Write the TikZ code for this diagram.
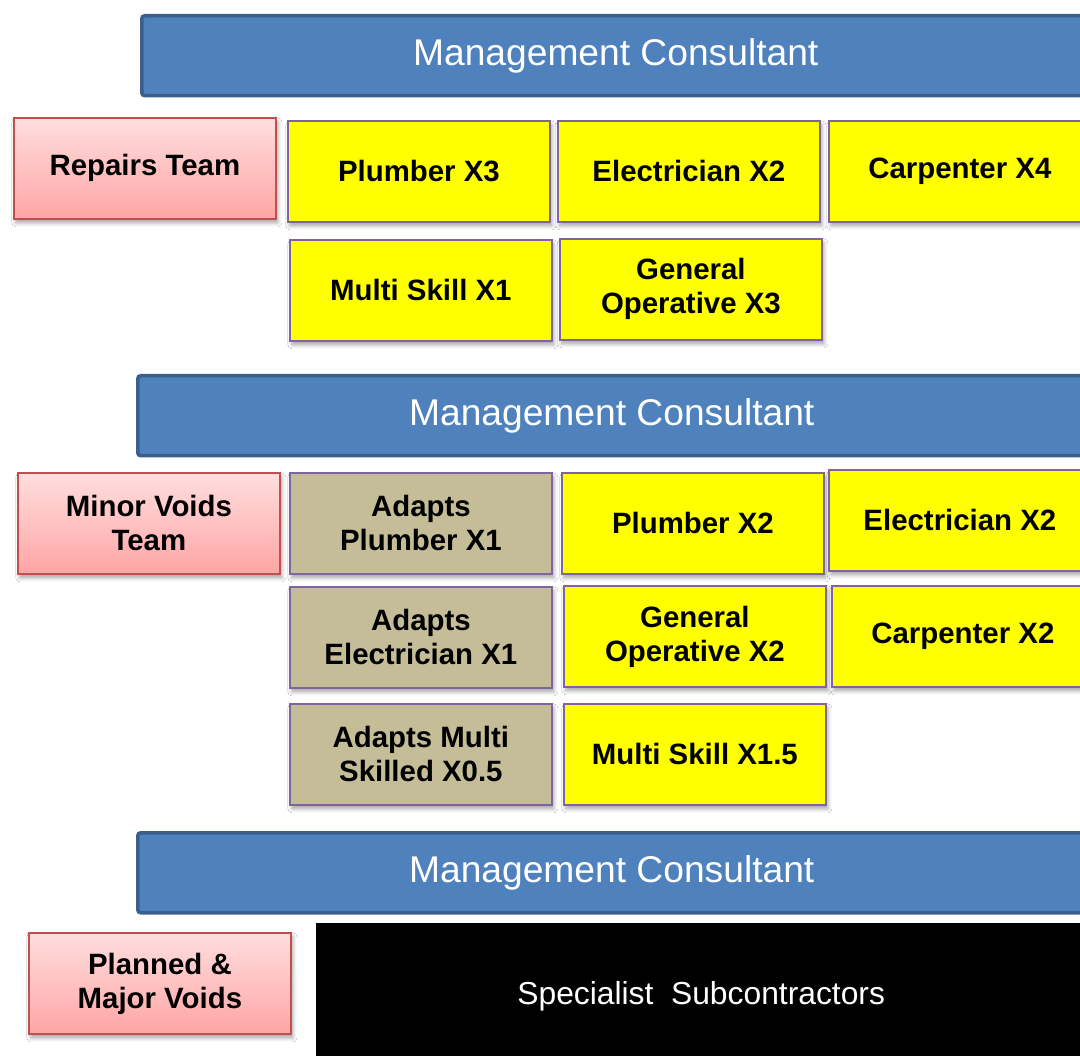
\documentclass[tikz,border=0pt]{standalone}
\usepackage{fontspec}
\setmainfont{Liberation Sans}
\usetikzlibrary{shadows.blur}
\definecolor{barfill}{HTML}{4F81BD}
\definecolor{barline}{HTML}{3A5F8C}
\definecolor{pinktop}{HTML}{FFDEDE}
\definecolor{pinkbot}{HTML}{FFA5A5}
\definecolor{pinkline}{HTML}{C0504D}
\definecolor{yel}{HTML}{FFFF00}
\definecolor{purpline}{HTML}{8064A2}
\definecolor{tan}{HTML}{C4BD97}
\tikzset{
  sh/.style={blur shadow={shadow xshift=2pt,shadow yshift=-4pt,shadow blur steps=6,shadow opacity=35,shadow blur radius=4pt}},
  bar/.style={draw=barline, line width=3.5pt, fill=barfill, rounded corners=3pt, anchor=north west,
    minimum width=948pt, minimum height=80pt, text=white, inner sep=0pt,
    font=\fontsize{37.2}{44}\selectfont},
  cell/.style={line width=1.8pt, anchor=north west, minimum width=262pt, minimum height=101pt,
    inner sep=0pt, align=center, font=\fontsize{29.4}{34}\selectfont\bfseries, sh},
  teambox/.style={cell, draw=pinkline, top color=pinktop, bottom color=pinkbot},
  yelbox/.style={cell, draw=purpline, fill=yel},
  tanbox/.style={cell, draw=purpline, fill=tan},
  blackbox/.style={fill=black, anchor=north west, minimum width=770pt, minimum height=146pt,
    inner sep=0pt, text=white, font=\fontsize{31.8}{37}\selectfont}
}
\begin{document}
\begin{tikzpicture}[x=1pt,y=-1pt]
\useasboundingbox (0,0) rectangle (1080,1056);
\clip (0,0) rectangle (1080,1056);
\fill[white] (0,0) rectangle (1080,1056);
% bars
\node[bar] (mc1) at (140,14) {Management Consultant};
\node[bar] (mc2) at (136,374) {Management Consultant};
\node[bar] (mc3) at (136,831) {Management Consultant};
% repairs
\node[teambox] (rt) at (13,117) {Repairs Team};
\node[yelbox] (p3) at (287,120) {Plumber X3};
\node[yelbox] (e2) at (557,120) {Electrician X2};
\node[yelbox] (c4) at (828,120) {Carpenter X4};
\node[yelbox] (ms1) at (289,239) {Multi Skill X1};
\node[yelbox] (go3) at (559,238) {General\\Operative X3};
% minor voids
\node[teambox] (mv) at (17,472) {Minor Voids\\Team};
\node[tanbox] (ap1) at (289,472) {Adapts\\Plumber X1};
\node[yelbox] (p2) at (561,472) {Plumber X2};
\node[yelbox] (e2b) at (828,469) {Electrician X2};
\node[tanbox] (ae1) at (289,586) {Adapts\\Electrician X1};
\node[yelbox] (go2) at (563,585) {General\\Operative X2};
\node[yelbox] (c2) at (831,585) {Carpenter X2};
\node[tanbox] (am) at (289,703) {Adapts Multi\\Skilled X0.5};
\node[yelbox] (ms15) at (563,703) {Multi Skill X1.5};
% planned
\node[teambox] (pm) at (28,932) {Planned \&\\Major Voids};
\node[blackbox] (ss) at (316,923) {Specialist\ \ Subcontractors};
\end{tikzpicture}
\end{document}
